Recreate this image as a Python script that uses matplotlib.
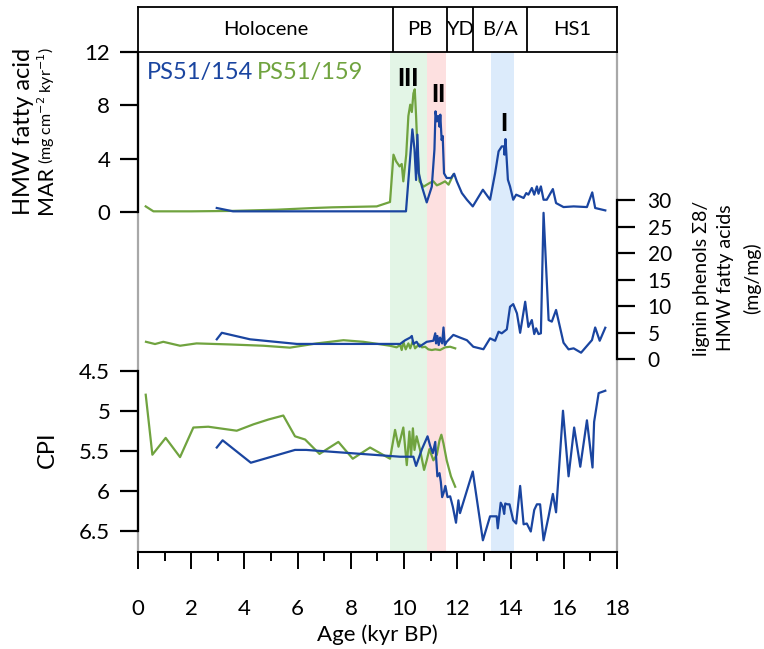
import numpy as np
import matplotlib.pyplot as plt
from matplotlib.ticker import MultipleLocator

plt.rcParams['font.family'] = ['Lato', 'DejaVu Sans']

# ---- data (age in kyr BP) ----
# HMW fatty acid MAR
mar154_age = [2.96, 3.57, 10.07, 10.31, 10.39, 10.45, 10.5, 10.55, 10.67, 10.85, 11.04, 11.14, 11.18,
              11.23, 11.28, 11.33, 11.36, 11.41, 11.45, 11.5, 11.6, 11.76, 11.88, 11.98, 12.17, 12.36,
              12.58, 12.96, 13.23, 13.42, 13.55, 13.67, 13.76, 13.77, 13.81, 13.9, 13.98, 14.1, 14.21,
              14.36, 14.49, 14.59, 14.67, 14.8, 14.89, 14.99, 15.05, 15.14, 15.24, 15.36, 15.59, 15.71,
              15.99, 16.37, 16.87, 17.07, 17.18, 17.56]
mar154 = [0.3, 0.05, 0.05, 6.2, 4.7, 2.4, 5.8, 2.9, 1.9, 0.72, 1.9, 4.7, 7.55,
          6.8, 7.2, 6.4, 7.3, 5.4, 5.7, 2.9, 2.55, 2.55, 2.87, 2.3, 1.42, 0.92,
          0.42, 1.67, 0.92, 2.92, 4.55, 4.92, 4.92, 4.3, 5.47, 2.42, 1.92, 0.92, 1.3,
          1.17, 1.05, 1.42, 1.3, 1.8, 1.3, 1.92, 1.37, 1.92, 0.92, 0.92, 1.72, 0.67,
          0.37, 0.42, 0.37, 1.47, 0.3, 0.12]
mar159_age = [0.29, 0.58, 2.0, 3.5, 5.2, 6.6, 7.3, 8.97, 9.47, 9.6, 9.7, 9.83, 9.91, 9.97, 10.08,
              10.16, 10.23, 10.29, 10.35, 10.4, 10.45, 10.5, 10.58, 10.73, 10.98, 11.1, 11.23, 11.35,
              11.54, 11.67, 11.85]
mar159 = [0.42, 0.05, 0.05, 0.08, 0.17, 0.3, 0.35, 0.42, 0.75, 4.3, 3.8, 3.42, 3.6, 2.3, 4.3,
          7.2, 8.05, 7.5, 8.9, 9.2, 7.2, 4.7, 2.3, 1.9, 2.2, 2.3, 2.0, 2.1,
          2.3, 2.05, 2.8]

# lignin phenols / HMW fatty acids
lig154_age = [2.96, 3.15, 4.21, 5.97, 9.85, 10.04, 10.23, 10.29, 10.35, 10.47, 10.58, 10.85, 11.1,
              11.17, 11.2, 11.25, 11.3, 11.35, 11.43, 11.48, 11.53, 11.6, 11.85, 12.1, 12.36, 12.6,
              12.98, 13.23, 13.42, 13.55, 13.67, 13.86, 13.98, 14.1, 14.24, 14.36, 14.55, 14.67, 14.8,
              14.89, 14.96, 15.05, 15.14, 15.24, 15.43, 15.55, 15.71, 15.99, 16.18, 16.37, 16.65,
              17.06, 17.18, 17.35, 17.56]
lig154 = [3.77, 5.0, 3.77, 2.9, 2.9, 3.6, 4.1, 4.4, 2.9, 3.3, 2.4, 3.3, 3.5,
          4.9, 3.0, 4.4, 2.7, 4.1, 3.0, 6.0, 2.7, 3.3, 4.6, 4.1, 3.6, 2.37,
          1.9, 3.95, 3.5, 5.2, 4.9, 5.65, 9.9, 10.4, 8.66, 5.0, 10.85, 6.1, 7.4,
          4.76, 5.84, 4.76, 4.9, 27.6, 7.4, 7.1, 9.3, 3.13, 1.88, 2.07, 1.25,
          3.63, 6.0, 3.5, 5.95]
lig159_age = [0.3, 0.64, 0.95, 1.58, 2.2, 3.46, 4.71, 5.71, 6.72, 7.72, 8.47, 9.47, 9.72, 9.85, 9.91,
              9.97, 10.06, 10.16, 10.23, 10.33, 10.41, 10.5, 10.58, 10.67, 10.79, 10.91, 11.04, 11.17,
              11.35, 11.54, 11.73, 11.92]
lig159 = [3.3, 2.88, 3.3, 2.56, 3.0, 2.8, 2.56, 2.2, 3.0, 3.6, 3.3, 2.56, 2.26, 2.7, 1.75,
          3.3, 1.88, 3.0, 2.07, 3.5, 2.07, 2.5, 2.82, 2.26, 2.37, 1.88, 1.75, 1.88,
          1.75, 2.26, 2.37, 2.07]

# CPI
cpi154_age = [2.96, 3.18, 4.24, 5.9, 6.32, 9.85, 10.35, 10.45, 10.67, 10.88, 10.98, 11.08, 11.17, 11.2,
              11.25, 11.33, 11.38, 11.43, 11.5, 11.55, 11.63, 11.73, 11.83, 11.95, 12.04, 12.1, 12.58,
              12.96, 13.23, 13.48, 13.52, 13.63, 13.71, 13.76, 13.8, 13.88, 13.96, 14.1, 14.21, 14.36,
              14.49, 14.61, 14.76, 14.89, 14.99, 15.11, 15.24, 15.43, 15.59, 15.71, 15.97, 16.18,
              16.39, 16.62, 16.87, 17.08, 17.14, 17.31, 17.56]
cpi154 = [5.46, 5.37, 5.65, 5.49, 5.49, 5.575, 5.575, 5.69, 5.48, 5.32, 5.44, 5.53, 5.39, 5.57,
          5.82, 5.78, 5.89, 6.08, 6.01, 5.94, 6.08, 6.07, 6.2, 6.4, 6.12, 6.28, 5.76,
          6.62, 6.32, 6.32, 6.47, 6.15, 6.2, 6.29, 6.16, 6.17, 6.17, 6.37, 6.41, 5.94,
          6.42, 6.41, 6.51, 6.24, 6.17, 6.17, 6.62, 6.32, 6.04, 6.27, 5.0, 5.82,
          5.21, 5.7, 5.12, 5.71, 5.14, 4.78, 4.75]
cpi159_age = [0.29, 0.54, 1.04, 1.58, 2.08, 2.64, 3.71, 4.34, 4.9, 5.46, 5.9, 6.28, 6.82, 7.53, 8.07,
              8.72, 9.47, 9.66, 9.79, 9.97, 10.1, 10.2, 10.26, 10.33, 10.39, 10.47, 10.6, 10.75, 10.85,
              10.95, 11.1, 11.23, 11.33, 11.4, 11.48, 11.6, 11.76, 11.92]
cpi159 = [4.8, 5.55, 5.34, 5.58, 5.21, 5.2, 5.25, 5.17, 5.11, 5.06, 5.32, 5.36, 5.54, 5.39, 5.6,
          5.46, 5.6, 5.24, 5.45, 5.21, 5.68, 5.26, 5.57, 5.22, 5.49, 5.32, 5.49, 5.74, 5.62,
          5.48, 5.62, 5.55, 5.37, 5.3, 5.41, 5.62, 5.82, 5.95]

# periods and highlighted events
periods = ['Holocene', 'PB', 'YD', 'B/A', 'HS1']
period_edges = [0, 9.6, 11.6, 12.6, 14.6, 18]
events = ['III', 'II', 'I']
event_spans = [(9.47, 10.85), (10.85, 11.58), (13.27, 14.13)]
event_colors = ['#e3f5e6', '#fde0e0', '#dcebfb']

blue = '#1a45a0'
green = '#70a33f'

W, H = 764, 649
fig = plt.figure(figsize=(W / 100, H / 100), dpi=100)
pos = [138 / W, 1 - 552 / H, 479 / W, 500 / H]

# base axes: shading + age axis
ax = fig.add_axes(pos)
ax.set_xlim(0, 18)
ax.set_ylim(0, 1)
for (a, b), c in zip(event_spans, event_colors):
    ax.axvspan(a, b, color=c, lw=0)
ax.spines['top'].set_visible(False)
for s in ['left', 'right']:
    ax.spines[s].set_color('#a8a8a8')
    ax.spines[s].set_linewidth(1.6)
ax.spines['bottom'].set_linewidth(1.5)
ax.set_yticks([])
ax.xaxis.set_major_locator(MultipleLocator(2))
ax.xaxis.set_minor_locator(MultipleLocator(1))
ax.tick_params(axis='x', which='major', length=12, width=1.4, pad=22, labelsize=16)
ax.tick_params(axis='x', which='minor', length=6.5, width=1.4)
ax.set_xlabel('Age (kyr BP)', fontsize=16, labelpad=4)


def panel(ylim, label):
    a = fig.add_axes(pos, label=label)
    a.patch.set_visible(False)
    a.set_xlim(0, 18)
    a.set_ylim(*ylim)
    for s in a.spines.values():
        s.set_visible(False)
    a.xaxis.set_visible(False)
    return a


# top: MAR
ax1 = panel((-25.5, 12.0), 'mar')
ax1.plot(mar159_age, mar159, color=green, lw=1.6)
ax1.plot(mar154_age, mar154, color=blue, lw=1.6)
ax1.spines['left'].set_visible(True)
ax1.spines['left'].set_bounds(0, 12)
ax1.spines['left'].set_linewidth(1.6)
ax1.set_yticks([0, 4, 8, 12])
ax1.tick_params(axis='y', length=13, width=1.6, pad=7, labelsize=16)
ax1.text(0.34, 10.5, 'PS51/154', color=blue, fontsize=17, va='center')
ax1.text(4.47, 10.5, 'PS51/159', color=green, fontsize=17, va='center')
for name, x, y in zip(events, [10.15, 11.3, 13.74], [10.0, 8.8, 6.66]):
    ax1.text(x, y, name, fontsize=17, fontweight='black', ha='center', va='center')

# middle: lignin ratio
ax2 = panel((-36.3, 57.9), 'lig')
ax2.plot(lig159_age, lig159, color=green, lw=1.6)
ax2.plot(lig154_age, lig154, color=blue, lw=1.6)
ax2.yaxis.tick_right()
ax2.spines['right'].set_visible(True)
ax2.spines['right'].set_bounds(0, 30)
ax2.spines['right'].set_linewidth(1.6)
ax2.set_yticks(range(0, 31, 5))
ax2.tick_params(axis='y', length=13, width=1.6, pad=9, labelsize=15)

# bottom: CPI (inverted)
ax3 = panel((6.766, 0.516), 'cpi')
ax3.plot(cpi159_age, cpi159, color=green, lw=1.6)
ax3.plot(cpi154_age, cpi154, color=blue, lw=1.6)
ax3.spines['left'].set_visible(True)
ax3.spines['left'].set_bounds(4.5, 6.5)
ax3.spines['left'].set_linewidth(1.6)
ax3.set_yticks([4.5, 5, 5.5, 6, 6.5])
ax3.set_yticklabels(['4.5', '5', '5.5', '6', '6.5'])
ax3.tick_params(axis='y', length=13, width=1.6, pad=7, labelsize=16)

# period box on top
axp = fig.add_axes([138 / W, 1 - 52 / H, 479 / W, 45 / H])
axp.set_xlim(0, 18)
axp.set_ylim(0, 1)
axp.set_xticks([])
axp.set_yticks([])
for s in axp.spines.values():
    s.set_linewidth(1.3)
for e in period_edges[1:-1]:
    axp.axvline(e, color='black', lw=1.3)
for name, a, b in zip(periods, period_edges[:-1], period_edges[1:]):
    axp.text((a + b) / 2, 0.5, name, ha='center', va='center', fontsize=14.5)

# axis titles (baseline-anchored, rotated)
fig.text(30 / W, 1 - 215 / H, 'HMW fatty acid', rotation=90, rotation_mode='anchor',
         ha='left', va='baseline', fontsize=17)
fig.text(52 / W, 1 - 214 / H, 'MAR', rotation=90, rotation_mode='anchor',
         ha='left', va='baseline', fontsize=15.5)
fig.text(52 / W, 1 - 164 / H, '(mg cm$^{-2}$ kyr$^{-1}$)', rotation=90, rotation_mode='anchor',
         ha='left', va='baseline', fontsize=11.5)
fig.text(47 / W, 1 - 450 / H, 'CPI', rotation=90, ha='center', va='center', fontsize=17)
for txt, x in zip(['lignin phenols \u03a38/', 'HMW fatty acids', '(mg/mg)'], [701, 725, 752]):
    fig.text(x / W, 1 - 278 / H, txt, rotation=90, ha='center', va='center', fontsize=14)

fig.savefig('out.png', dpi=100)
